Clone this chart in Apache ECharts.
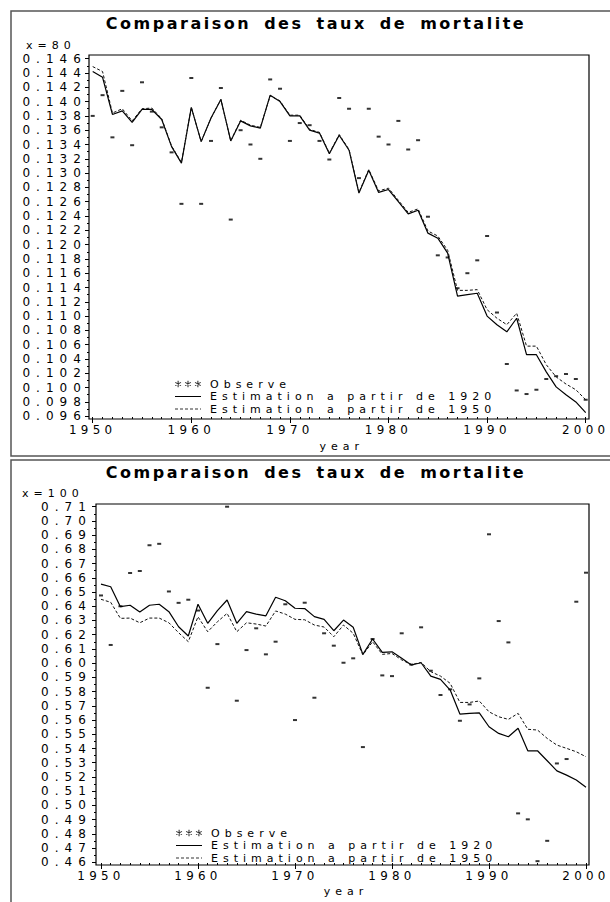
<!DOCTYPE html>
<html>
<head>
<meta charset="utf-8">
<script src="https://cdn.jsdelivr.net/npm/echarts@6/dist/echarts.min.js"></script>
<style>
  html, body { margin: 0; padding: 0; background: #fff; }
  #chart { width: 610px; height: 902px; letter-spacing: 5px; }
  #chart text[style*="12px"] { letter-spacing: 6px; }
  #chart text[style*="11.9px"] { letter-spacing: 4.3px; }
  #chart text[style*="bold"] { letter-spacing: 2.5px; word-spacing: 5px; }
</style>
</head>
<body>
<div id="chart"></div>
<script>
// Years of observation
const years = [
  1950, 1951, 1952, 1953, 1954, 1955, 1956, 1957, 1958, 1959,
  1960, 1961, 1962, 1963, 1964, 1965, 1966, 1967, 1968, 1969,
  1970, 1971, 1972, 1973, 1974, 1975, 1976, 1977, 1978, 1979,
  1980, 1981, 1982, 1983, 1984, 1985, 1986, 1987, 1988, 1989,
  1990, 1991, 1992, 1993, 1994, 1995, 1996, 1997, 1998, 1999, 2000
];

// Age 80: observed rates and the two fitted estimations
const obs80 = [
  0.1380, 0.1409, 0.1350, 0.1415, 0.1339, 0.1427, 0.1386, 0.1364, 0.1329, 0.1257,
  0.1433, 0.1257, 0.1345, 0.1419, 0.1235, 0.1360, 0.1340, 0.1320, 0.1431, 0.1418,
  0.1345, 0.1370, 0.1367, 0.1345, 0.1319, 0.1405, 0.1390, 0.1293, 0.1390, 0.1351,
  0.1340, 0.1373, 0.1333, 0.1346, 0.1239, 0.1185, 0.1182, 0.1139, 0.1160, 0.1178,
  0.1212, 0.1105, 0.1033, 0.0996, 0.0991, 0.0997, 0.1012, 0.1016, 0.1019, 0.1012, 0.0983
];
const est1920_80 = [
  0.1442, 0.1434, 0.1382, 0.1387, 0.1371, 0.1389, 0.1389, 0.1375, 0.1337, 0.1314,
  0.1392, 0.1344, 0.1377, 0.1403, 0.1345, 0.1373, 0.1366, 0.1363, 0.1409, 0.1400,
  0.1380, 0.1380, 0.1360, 0.1356, 0.1327, 0.1353, 0.1332, 0.1272, 0.1304, 0.1273,
  0.1277, 0.1260, 0.1243, 0.1248, 0.1216, 0.1209, 0.1188, 0.1128, 0.1130, 0.1132,
  0.1100, 0.1088, 0.1078, 0.1097, 0.1046, 0.1046, 0.1022, 0.1001, 0.0990, 0.0980, 0.0965
];
const est1950_80 = [
  0.1449, 0.1442, 0.1384, 0.1390, 0.1373, 0.1390, 0.1391, 0.1376, 0.1338, 0.1315,
  0.1392, 0.1344, 0.1377, 0.1403, 0.1345, 0.1374, 0.1367, 0.1364, 0.1408, 0.1401,
  0.1381, 0.1381, 0.1361, 0.1357, 0.1328, 0.1354, 0.1333, 0.1273, 0.1305, 0.1275,
  0.1279, 0.1262, 0.1245, 0.1250, 0.1219, 0.1212, 0.1192, 0.1136, 0.1136, 0.1137,
  0.1109, 0.1097, 0.1088, 0.1104, 0.1058, 0.1058, 0.1032, 0.1015, 0.1005, 0.0997, 0.0983
];

// Age 100: observed rates and the two fitted estimations
const obs100 = [
  0.6476, 0.6128, 0.6400, 0.6634, 0.6648, 0.6829, 0.6839, 0.6504, 0.6424, 0.6446,
  0.6370, 0.5827, 0.6134, 0.7100, 0.5736, 0.6092, 0.6245, 0.6062, 0.6151, 0.6414,
  0.5600, 0.6425, 0.5757, 0.6210, 0.6123, 0.6003, 0.6034, 0.5410, 0.6170, 0.5914,
  0.5909, 0.6210, 0.5990, 0.6252, 0.5947, 0.5776, 0.5816, 0.5595, 0.5710, 0.5893,
  0.6906, 0.6296, 0.6146, 0.4944, 0.4902, 0.4608, 0.4751, 0.5295, 0.5326, 0.6432, 0.6636
];
const est1920_100 = [
  0.6556, 0.6537, 0.6397, 0.6407, 0.6359, 0.6407, 0.6414, 0.6362, 0.6256, 0.6191,
  0.6414, 0.6280, 0.6369, 0.6444, 0.6280, 0.6362, 0.6345, 0.6333, 0.6463, 0.6439,
  0.6386, 0.6384, 0.6327, 0.6308, 0.6228, 0.6303, 0.6252, 0.6062, 0.6170, 0.6076,
  0.6080, 0.6034, 0.5987, 0.6003, 0.5909, 0.5886, 0.5811, 0.5642, 0.5647, 0.5651,
  0.5553, 0.5506, 0.5483, 0.5542, 0.5384, 0.5384, 0.5314, 0.5243, 0.5213, 0.5178, 0.5127
];
const est1950_100 = [
  0.6449, 0.6428, 0.6315, 0.6317, 0.6284, 0.6317, 0.6317, 0.6284, 0.6214, 0.6151,
  0.6326, 0.6221, 0.6291, 0.6350, 0.6221, 0.6284, 0.6275, 0.6261, 0.6367, 0.6345,
  0.6308, 0.6305, 0.6268, 0.6254, 0.6186, 0.6268, 0.6210, 0.6058, 0.6151, 0.6062,
  0.6068, 0.6023, 0.5990, 0.6005, 0.5940, 0.5909, 0.5858, 0.5724, 0.5724, 0.5734,
  0.5658, 0.5623, 0.5605, 0.5647, 0.5535, 0.5530, 0.5471, 0.5424, 0.5401, 0.5377, 0.5342
];

// Text
const TITLE = 'Comparaison des taux de mortalite';
const NAME_OBS = 'Observe';
const NAME_1920 = 'Estimation a partir de 1920';
const NAME_1950 = 'Estimation a partir de 1950';
const AGE_TOP = 'x=80';
const AGE_BOTTOM = 'x=100';
const X_NAME = 'year';

const FONT = 'DejaVu Sans';
const BLACK = '#000';

// Legend keys drawn as filled paths: three asterisks, a solid rule, a dashed rule
function starsPath() {
  const parts = [];
  [35, 125, 215].forEach(function (cx) {
    const cy = 30;
    const p = function (pts) {
      return 'M' + pts.map(function (q) { return (cx + q[0]) + ' ' + (cy + q[1]); }).join(' L') + ' Z';
    };
    parts.push(p([[-5, -30], [5, -30], [5, 30], [-5, 30]]));
    parts.push(p([[-28.5, -10.7], [-23.5, -19.3], [28.5, 10.7], [23.5, 19.3]]));
    parts.push(p([[-23.5, 19.3], [-28.5, 10.7], [23.5, -19.3], [28.5, -10.7]]));
  });
  return 'path://' + parts.join(' ');
}
const ICON_SOLID = 'path://M0 0 L26 0 L26 1 L0 1 Z';
function dashedPath() {
  const parts = [];
  for (let x = 0; x < 26; x += 5) {
    const e = Math.min(x + 3, 26);
    parts.push('M' + x + ' 0 L' + e + ' 0 L' + e + ' 1 L' + x + ' 1 Z');
  }
  return 'path://' + parts.join(' ');
}

function pairs(vals) {
  return years.map(function (y, i) { return [y, vals[i]]; });
}

const tickText = { color: BLACK, fontFamily: FONT, fontSize: 12 };
const yearText = { color: BLACK, fontFamily: FONT, fontSize: 11.9 };
const smallText = { color: BLACK, fontFamily: FONT, fontSize: 11 };

function xMain(grid, offset, nameGap) {
  return {
    type: 'value', gridIndex: grid, position: 'bottom',
    min: 1950, max: 2000, interval: 10, offset: offset,
    axisLine: { show: false }, splitLine: { show: false },
    axisTick: { show: true, length: 4, lineStyle: { color: BLACK, width: 1 } },
    axisLabel: Object.assign({
      margin: 5,
      formatter: function (v) { return String(v); }
    }, yearText),
    name: X_NAME, nameLocation: 'middle', nameGap: nameGap,
    nameTextStyle: Object.assign({ padding: [0, 0, 0, 5] }, smallText)
  };
}
// Yearly minor ticks along the bottom edge, pointing into the plot
function xMinor(grid, offset) {
  return {
    type: 'value', gridIndex: grid, position: 'bottom',
    min: 1950, max: 2000, interval: 1, offset: offset,
    axisLine: { show: false }, splitLine: { show: false },
    axisTick: { show: true, inside: true, length: 2, lineStyle: { color: BLACK, width: 1 } },
    axisLabel: { show: false }
  };
}
function yMain(grid, min, max, step, digits, offset, margin) {
  return {
    type: 'value', gridIndex: grid, position: 'left',
    min: min, max: max, interval: step, offset: offset,
    axisLine: { show: false }, splitLine: { show: false },
    axisTick: { show: true, length: 4, lineStyle: { color: BLACK, width: 1 } },
    minorTick: { show: true, splitNumber: 2, length: 2, lineStyle: { color: BLACK, width: 1 } },
    axisLabel: Object.assign({
      margin: margin,
      formatter: function (v) { return v.toFixed(digits); }
    }, tickText)
  };
}
function hiddenAxis(grid) {
  return { type: 'value', gridIndex: grid, show: false, min: 0, max: 1 };
}

function panelSeries(xi, yi, obs, e1920, e1950) {
  return [
    {
      name: NAME_OBS, type: 'scatter', xAxisIndex: xi, yAxisIndex: yi,
      symbol: 'rect', symbolSize: [4, 2],
      itemStyle: { color: BLACK },
      data: pairs(obs)
    },
    {
      name: NAME_1920, type: 'line', xAxisIndex: xi, yAxisIndex: yi,
      symbol: 'none', lineStyle: { color: BLACK, width: 1.2 },
      itemStyle: { color: BLACK },
      data: pairs(e1920)
    },
    {
      name: NAME_1950, type: 'line', xAxisIndex: xi, yAxisIndex: yi,
      symbol: 'none', lineStyle: { color: '#111', width: 1, type: [3, 2] },
      itemStyle: { color: BLACK },
      data: pairs(e1950)
    }
  ];
}

function legend(left, top) {
  return {
    orient: 'vertical', left: left, top: top, padding: 0,
    itemWidth: 26, itemHeight: 7, itemGap: 0, selectedMode: false, symbolKeepAspect: true,
    textStyle: Object.assign({ lineHeight: 12.5, padding: [0, 0, 0, 4] }, smallText),
    data: [
      { name: NAME_OBS, icon: starsPath(), itemStyle: { color: BLACK } },
      { name: NAME_1920, icon: ICON_SOLID, itemStyle: { color: BLACK } },
      { name: NAME_1950, icon: dashedPath(), itemStyle: { color: '#333' } }
    ]
  };
}

// Plot frame (border only) and the data area inside it
function frameGrid(left, top, width, height) {
  return {
    left: left, top: top, width: width, height: height,
    show: true, borderColor: BLACK, borderWidth: 1.2, backgroundColor: 'transparent',
    outerBoundsMode: 'none', containLabel: false
  };
}
function dataGrid(left, right, top, height) {
  return {
    left: left, right: right, top: top, height: height,
    show: false, outerBoundsMode: 'none', containLabel: false
  };
}

function text(str, x, y, font, align) {
  return {
    type: 'text', x: x, y: y, silent: true,
    style: {
      text: str, font: font, fill: BLACK,
      textAlign: align, align: align,
      textVerticalAlign: 'middle', verticalAlign: 'middle'
    }
  };
}

const chart = echarts.init(document.getElementById('chart'), null, { renderer: 'svg' });

chart.setOption({
  backgroundColor: '#fff',
  animation: false,
  grid: [
    dataGrid(92.7, 24.3, 58.7, 357.5),
    frameGrid(89, 55, 500, 364),
    dataGrid(101, 24, 506.7, 355.6),
    frameGrid(96, 504, 493, 361)
  ],
  xAxis: [
    xMain(0, 2.8, 22),
    xMinor(0, 2.8),
    hiddenAxis(1),
    xMain(2, 2.7, 21),
    xMinor(2, 2.7),
    hiddenAxis(3)
  ],
  yAxis: [
    yMain(0, 0.096, 0.146, 0.002, 3, 3.7, 2.2),
    hiddenAxis(1),
    yMain(2, 0.46, 0.71, 0.01, 2, 5, 4.2),
    hiddenAxis(3)
  ],
  legend: [legend(175, 377.75), legend(176, 826.75)],
  series: []
    .concat(panelSeries(0, 0, obs80, est1920_80, est1950_80))
    .concat(panelSeries(3, 2, obs100, est1920_100, est1950_100)),
  graphic: [
    { type: 'rect', silent: true, shape: { x: 11, y: 11, width: 640, height: 445 },
      style: { fill: 'none', stroke: '#555', lineWidth: 1.5 } },
    { type: 'rect', silent: true, shape: { x: 11, y: 460, width: 640, height: 480 },
      style: { fill: 'none', stroke: '#555', lineWidth: 1.5 } },
    text(TITLE, 316, 23, 'bold 16px "DejaVu Sans"', 'center'),
    text(TITLE, 316, 472, 'bold 16px "DejaVu Sans"', 'center'),
    text(AGE_TOP, 26, 45.5, '11px "DejaVu Sans"', 'left'),
    text(AGE_BOTTOM, 22, 493, '11px "DejaVu Sans"', 'left')
  ]
});
</script>
</body>
</html>
